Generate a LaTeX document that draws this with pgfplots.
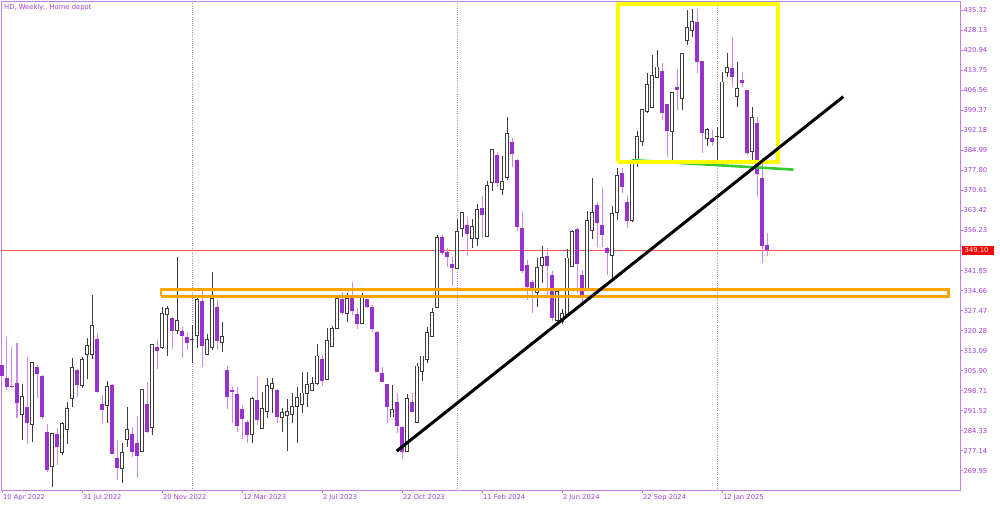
\documentclass[border=0pt]{standalone}
\usepackage{pgfplots}
\pgfplotsset{compat=1.18}
\usepackage{pgfplotstable}
\usepackage{fontspec}
\setmainfont{DejaVu Sans}
\definecolor{bearbody}{HTML}{9932CC}
\definecolor{bearwick}{HTML}{CC88EE}
\definecolor{bullline}{HTML}{3C3C3C}
\definecolor{framec}{HTML}{C080E0}
\definecolor{txt}{HTML}{A040D8}
\definecolor{redl}{HTML}{FF5050}
\definecolor{ylw}{HTML}{FFFF00}
\definecolor{org}{HTML}{FFA500}
\definecolor{grn}{HTML}{33CC33}

\pgfplotstableread{
i o h l c
4 290.6 301.0 281.0 296.2
6 287.0 308.5 280.2 308.2
10 272.0 283.4 264.0 282.8
12 276.8 287.6 275.6 286.4
13 285.2 294.7 279.5 292.0
14 296.5 310.6 293.0 306.7
16 301.0 310.7 299.8 309.5
17 312.1 317.7 302.9 314.5
18 312.1 333.1 309.9 321.5
21 293.9 302.3 287.0 299.9
24 271.2 280.0 265.4 276.2
25 281.6 292.7 278.6 284.2
28 277.2 298.9 276.8 298.7
30 286.0 315.3 282.8 314.9
32 314.5 328.9 313.7 326.1
33 326.5 329.1 311.3 327.7
35 320.9 346.8 318.9 323.4
39 318.9 331.9 313.9 331.0
41 312.3 318.9 311.9 316.5
42 314.5 341.4 313.3 331.3
44 316.5 323.5 312.7 317.6
50 283.4 296.5 279.8 295.3
52 285.5 298.3 285.2 292.0
53 291.8 303.1 288.8 300.1
54 300.1 303.1 290.6 300.7
56 289.4 292.4 284.0 290.3
57 290.1 295.7 277.0 290.8
58 290.6 297.7 287.0 292.7
59 293.6 300.1 279.8 295.7
60 294.1 305.5 290.6 297.4
61 298.3 305.5 293.0 300.4
62 299.2 303.5 298.9 300.7
63 301.9 315.5 300.7 310.7
65 303.1 321.1 302.9 316.3
66 315.1 321.9 314.5 320.5
67 321.5 332.5 321.1 331.5
69 326.8 333.7 323.5 331.3
72 323.2 333.7 323.0 331.9
78 289.7 300.7 289.5 291.6
81 277.2 297.5 276.8 295.3
83 287.6 308.5 287.0 307.1
84 306.1 310.8 302.3 310.7
85 310.3 321.7 308.5 319.3
86 318.7 328.3 318.3 326.2
87 329.1 354.6 328.6 353.4
91 343.2 360.3 343.0 355.5
92 357.3 363.0 353.8 362.2
94 353.7 360.3 349.8 357.3
95 353.7 365.6 350.7 363.2
97 354.5 374.0 354.0 372.0
98 373.8 385.1 370.5 384.8
100 371.4 383.0 369.0 373.4
101 375.8 396.9 374.4 390.5
107 334.3 346.2 328.9 342.6
108 344.2 350.5 337.3 346.2
111 324.3 334.3 323.5 333.9
112 324.0 328.0 322.5 326.0
113 326.5 349.5 326.0 345.9
114 343.8 356.4 343.5 355.5
117 335.8 363.4 335.5 359.4
118 356.7 375.0 353.1 362.4
122 347.8 365.0 339.0 361.8
123 363.0 378.6 360.0 375.6
126 360.3 381.8 359.4 380.4
127 381.3 392.0 379.2 389.6
128 388.7 399.5 386.7 399.3
129 399.3 412.9 398.3 408.1
130 400.7 419.3 400.1 411.5
131 411.7 421.1 410.9 414.5
134 392.3 406.1 381.6 405.5
136 404.1 419.9 399.5 419.5
137 424.9 435.4 422.9 428.6
138 428.6 435.7 425.9 431.0
141 389.9 392.9 386.7 392.1
144 390.2 413.3 389.9 409.1
145 413.3 420.1 411.2 414.2
147 404.9 416.9 400.7 406.7
150 384.9 400.7 381.6 396.2
}\bull

\pgfplotstableread{
i o h l c
0 307.9 310.0 302.5 304.0
1 303.4 318.1 298.9 299.9
2 300.3 314.3 299.5 300.0
3 301.3 315.7 288.8 294.1
5 293.0 310.7 279.5 287.0
7 307.2 307.9 295.9 304.7
8 304.0 304.2 288.5 289.1
9 284.0 286.7 269.6 270.2
11 283.0 285.2 272.0 278.6
15 306.1 306.4 296.5 300.7
19 317.1 319.5 297.8 298.1
20 293.9 297.1 287.0 291.8
22 300.7 301.0 275.8 276.0
23 274.4 281.0 266.6 270.8
26 283.0 285.8 275.0 276.8
27 280.0 289.7 267.2 275.2
29 293.9 301.9 283.4 284.0
31 314.3 317.1 306.5 313.1
34 324.9 325.1 313.7 320.1
36 320.1 321.7 310.3 318.5
37 318.1 319.9 313.3 315.7
40 330.9 334.9 307.1 314.9
43 328.6 331.3 313.3 316.7
45 306.1 307.6 292.0 296.3
46 298.9 300.1 287.2 298.1
47 297.5 299.9 284.0 286.1
48 292.0 293.5 281.2 288.4
49 287.6 288.2 280.0 282.8
51 295.3 303.7 286.4 288.2
55 298.9 299.2 287.0 289.1
64 309.9 311.5 300.4 302.3
68 331.5 334.3 325.9 326.5
70 332.1 337.6 325.9 327.3
71 326.2 328.3 320.7 322.6
73 331.5 331.7 328.3 328.6
74 328.9 329.5 319.9 320.9
75 319.9 320.0 305.3 305.5
76 305.2 307.3 301.7 301.9
77 301.1 301.2 287.0 292.7
79 294.7 298.0 283.6 286.1
80 285.8 285.9 274.0 276.8
82 294.7 297.7 291.0 291.2
88 353.8 354.6 347.5 348.3
89 348.6 349.8 343.2 346.6
90 344.1 346.8 336.3 342.6
93 358.1 361.0 347.0 355.0
96 364.2 368.6 353.7 361.8
99 383.3 384.5 372.0 373.2
102 388.1 389.3 379.2 383.6
103 381.6 381.8 356.2 357.4
104 357.0 363.4 341.1 341.8
105 343.8 345.6 331.3 335.8
106 337.9 338.5 326.5 335.5
109 347.1 350.0 333.1 343.5
110 340.2 341.8 323.8 324.7
115 356.7 357.0 333.9 344.2
116 340.2 342.0 330.7 332.5
119 365.4 366.6 350.4 358.8
120 358.2 372.0 350.4 354.6
121 349.8 350.3 340.2 348.0
124 376.8 378.6 369.6 372.0
125 366.6 369.0 357.0 359.8
132 413.6 416.3 395.9 398.3
133 401.7 401.8 382.8 392.1
135 407.7 414.2 399.5 406.7
139 431.0 435.7 412.7 416.6
140 417.1 417.2 384.0 391.1
142 389.6 392.3 386.7 388.1
146 414.7 425.9 407.9 411.2
148 410.3 413.3 407.7 409.1
149 406.7 406.8 383.3 384.0
151 395.0 396.9 368.4 376.5
152 375.0 382.2 344.7 350.5
153 351.0 355.2 347.1 349.1
}\bear

\pgfplotstableread{
i m h l
38 317.1 322.3 308.8
143 389.9 393.5 381.6
}\doji

\begin{document}
\begin{tikzpicture}
\useasboundingbox (0pt,0pt) rectangle (1000pt,506pt);
\begin{axis}[
  at={(1pt,15.3pt)}, anchor=south west,
  scale only axis, width=959.7pt, height=489.7pt,
  xmin=-0.2, xmax=191.74, ymin=262.77, ymax=438.66,
  clip=false,
  axis line style={draw=framec, line width=0.9pt},
  tick style={draw=framec, line width=0.9pt},
  tick align=outside, major tick length=2.6pt,
  xtick pos=left, ytick pos=right, yticklabel pos=right,
  xtick={0,16,32,48,64,80,96,112,128,144},
  xticklabels={10 Apr 2022,31 Jul 2022,20 Nov 2022,12 Mar 2023,2 Jul 2023,22 Oct 2023,11 Feb 2024,2 Jun 2024,22 Sep 2024,12 Jan 2025},
  ytick={269.95,277.14,284.33,291.52,298.71,305.90,313.09,320.28,327.47,334.66,341.85,349.04,356.23,363.42,370.61,377.80,384.99,392.18,399.37,406.56,413.75,420.94,428.13,435.32},
  yticklabels={269.95,277.14,284.33,291.52,298.71,305.90,313.09,320.28,327.47,334.66,341.85,,356.23,363.42,370.61,377.80,384.99,392.18,399.37,406.56,413.75,420.94,428.13,435.32},
  xticklabel style={anchor=north west, inner sep=0pt, xshift=0.8pt, yshift=-1.2pt, text=txt, font=\fontsize{6.8}{8}\selectfont},
  yticklabel style={anchor=west, inner sep=0pt, xshift=0pt, text=txt, font=\fontsize{6.8}{8}\selectfont},
]
% year separators
\addplot[draw=framec, line width=0.9pt, dash pattern=on 1pt off 1.2pt, forget plot] coordinates {(38,262.77) (38,438.66)};
\addplot[draw=framec, line width=0.9pt, dash pattern=on 1pt off 1.2pt, forget plot] coordinates {(91,262.77) (91,438.66)};
\addplot[draw=framec, line width=0.9pt, dash pattern=on 1pt off 1.2pt, forget plot] coordinates {(143,262.77) (143,438.66)};
% current price line
\addplot[draw=redl, line width=0.9pt, forget plot] coordinates {(-0.2,349.10) (191.74,349.10)};

% wicks
\addplot[draw=none, mark=none, forget plot,
  error bars/.cd, y dir=plus, y explicit, error mark=none,
  error bar style={draw=bearwick, line width=1pt, solid}]
  table[x=i, y=l, y error plus expr=\thisrow{h}-\thisrow{l}] {\bear};
\addplot[draw=none, mark=none, forget plot,
  error bars/.cd, y dir=plus, y explicit, error mark=none,
  error bar style={draw=bullline, line width=1pt, solid}]
  table[x=i, y=l, y error plus expr=\thisrow{h}-\thisrow{l}] {\bull};
\addplot[draw=none, mark=none, forget plot,
  error bars/.cd, y dir=plus, y explicit, error mark=none,
  error bar style={draw=bullline, line width=1pt, solid}]
  table[x=i, y=l, y error plus expr=\thisrow{h}-\thisrow{l}] {\doji};
% bodies
\addplot[draw=none, mark=none, forget plot,
  error bars/.cd, y dir=plus, y explicit, error mark=none,
  error bar style={draw=bearbody, line width=3.5pt, line cap=butt, solid}]
  table[x=i, y=c, y error plus expr=\thisrow{o}-\thisrow{c}] {\bear};
\addplot[draw=none, mark=none, forget plot,
  error bars/.cd, y dir=plus, y explicit, error mark=none,
  error bar style={draw=bullline, line width=3.5pt, line cap=rect, solid}]
  table[x=i, y=o, y error plus expr=\thisrow{c}-\thisrow{o}] {\bull};
\addplot[draw=none, mark=none, forget plot,
  error bars/.cd, y dir=plus, y explicit, error mark=none,
  error bar style={draw=white, line width=1.6pt, line cap=rect, solid}]
  table[x=i, y=o, y error plus expr=\thisrow{c}-\thisrow{o}] {\bull};
\addplot[only marks, mark=-, mark size=1.8pt, mark options={draw=bullline, line width=1pt}, forget plot]
  table[x=i, y=m] {\doji};

% annotations
\addplot[draw=org, line width=2.6pt, forget plot] coordinates {(31.8,332.59) (189.3,332.59) (189.3,335.10) (31.8,335.10) (31.8,332.59)};
\addplot[draw=grn, line width=2.6pt, forget plot] coordinates {(126.0,381.5) (158.3,378.1)};
\addplot[draw=ylw, line width=3.8pt, forget plot] coordinates {(123.24,380.94) (155.2,380.94) (155.2,437.58) (123.24,437.58) (123.24,380.94)};
\addplot[draw=black, line width=3pt, forget plot] coordinates {(78.94,277.0) (168.26,404.3)};

% price tag and title
\node[fill=red, anchor=west, minimum width=31.5pt, minimum height=8.5pt, inner sep=0pt] at (axis cs:191.74,349.10) [xshift=1.3pt] {};
\node[text=white, anchor=west, inner sep=0pt, font=\fontsize{6.8}{8}\selectfont] at (axis cs:191.74,349.10) [xshift=3.8pt] {349.10};
\node[anchor=north west, inner sep=0pt, text=txt, font=\fontsize{6.8}{8}\selectfont] at (rel axis cs:0,1) [xshift=3pt, yshift=-3pt] {HD, Weekly:\ \ Home depot};
\end{axis}
\end{tikzpicture}
\end{document}
